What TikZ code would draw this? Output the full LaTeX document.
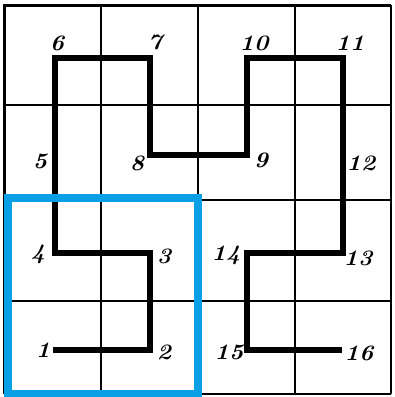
\documentclass[tikz,border=0pt]{standalone}
\usepackage{xcolor}
\definecolor{hlblue}{HTML}{0AA0E6}
\tikzset{
  gridline/.style={line width=1.8pt, black},
  frameline/.style={line width=2.8pt, black},
  curve/.style={line width=5.5pt, black, line join=miter},
  numlabel/.style={font=\fontsize{22}{22}\selectfont\bfseries\itshape, inner sep=0pt, xscale=1.1},
  highlight/.style={line width=8pt, hlblue}
}
\begin{document}
\begin{tikzpicture}[x=1pt,y=-1pt]
\useasboundingbox (0,0) rectangle (395,397);
% grid
\foreach \gx in {101,198,295} \draw[gridline] (\gx,5) -- (\gx,394);
\foreach \gy in {105,200,301} \draw[gridline] (5,\gy) -- (391,\gy);
\draw[frameline] (4.5,5.5) -- (391,5.5);
\draw[frameline] (4.5,4) -- (4.5,394);
\draw[gridline] (391,5) -- (391,394);
\draw[gridline] (5,394) -- (391,394);
% curve points
\coordinate (p1) at (53,350);
\coordinate (p2) at (150,350);
\coordinate (p3) at (150,253);
\coordinate (p4) at (55,253);
\coordinate (p5) at (55,155);
\coordinate (p6) at (55,58);
\coordinate (p7) at (150,58);
\coordinate (p8) at (150,155);
\coordinate (p9) at (247,155);
\coordinate (p10) at (247,58);
\coordinate (p11) at (343,58);
\coordinate (p12) at (343,155);
\coordinate (p13) at (343,253);
\coordinate (p14) at (247,253);
\coordinate (p15) at (247,350);
\coordinate (p16) at (342,350);
\draw[curve] (p1) -- (p2) -- (p3) -- (p4) -- (p5) -- (p6) -- (p7) -- (p8) -- (p9) -- (p10) -- (p11) -- (p12) -- (p13) -- (p14) -- (p15) -- (p16);
% labels
\node[numlabel] (l1) at (43,350) {1};
\node[numlabel] (l2) at (164,352) {2};
\node[numlabel] (l3) at (164,256) {3};
\node[numlabel] (l4) at (38,254) {4};
\node[numlabel] (l5) at (40,161) {5};
\node[numlabel] (l6) at (57,43) {6};
\node[numlabel] (l7) at (155,42) {7};
\node[numlabel] (l8) at (137,163) {8};
\node[numlabel] (l9) at (261,160) {9};
\node[numlabel] (l10) at (254,43) {10};
\node[numlabel] (l11) at (350,43) {11};
\node[numlabel] (l12) at (361,163) {12};
\node[numlabel] (l13) at (358,258) {13};
\node[numlabel] (l14) at (226,255) {14};
\node[numlabel] (l15) at (229,352) {15};
\node[numlabel] (l16) at (359,353) {16};
% highlight box
\draw[highlight] (7.5,198) rectangle (197.5,393.5);
\end{tikzpicture}
\end{document}
